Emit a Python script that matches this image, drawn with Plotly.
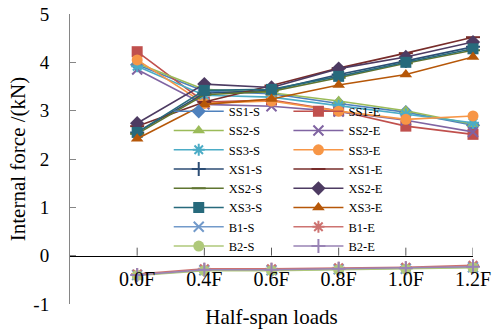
import plotly.graph_objects as go

# Load stages along the half span
categories = ["0.0F", "0.4F", "0.6F", "0.8F", "1.0F", "1.2F"]

# Internal force (kN) for each member / end
ss1_s = [3.95, 3.40, 3.35, 3.15, 2.97, 2.70]
ss1_e = [4.22, 3.18, 3.22, 3.00, 2.68, 2.51]
ss2_s = [3.98, 3.44, 3.37, 3.20, 3.00, 2.72]
ss2_e = [3.85, 3.13, 3.09, 2.98, 2.80, 2.56]
ss3_s = [3.92, 3.32, 3.28, 3.10, 2.92, 2.75]
ss3_e = [4.05, 3.15, 3.20, 2.99, 2.82, 2.89]
xs1_s = [2.55, 3.36, 3.42, 3.75, 4.03, 4.32]
xs1_e = [2.68, 3.18, 3.52, 3.88, 4.19, 4.52]
xs2_s = [2.52, 3.33, 3.40, 3.68, 3.98, 4.25]
xs2_e = [2.74, 3.55, 3.48, 3.87, 4.11, 4.42]
xs3_s = [2.55, 3.42, 3.44, 3.71, 4.00, 4.28]
xs3_e = [2.42, 3.13, 3.24, 3.53, 3.75, 4.11]
b1_s = [-0.40, -0.30, -0.30, -0.28, -0.27, -0.24]
b1_e = [-0.38, -0.27, -0.27, -0.25, -0.24, -0.20]
b2_s = [-0.41, -0.31, -0.31, -0.29, -0.28, -0.25]
b2_e = [-0.40, -0.29, -0.29, -0.27, -0.26, -0.23]

y_tick_values = [-1, 0, 1, 2, 3, 4, 5]
y_tick_labels = ["-1", "0", "1", "2", "3", "4", "5"]
y_range = [-1, 5]

FONT = "Liberation Serif"

# name, values, colour, symbol, legend
series = [
    ("SS1-S", ss1_s, "#4F81BD", "diamond", "legend"),
    ("SS1-E", ss1_e, "#C0504D", "square", "legend2"),
    ("SS2-S", ss2_s, "#9BBB59", "triangle-up", "legend"),
    ("SS2-E", ss2_e, "#8064A2", "x-thin", "legend2"),
    ("SS3-S", ss3_s, "#4BACC6", "asterisk", "legend"),
    ("SS3-E", ss3_e, "#F79646", "circle", "legend2"),
    ("XS1-S", xs1_s, "#2C4D75", "cross-thin", "legend"),
    ("XS1-E", xs1_e, "#772C2A", "line-ew", "legend2"),
    ("XS2-S", xs2_s, "#5F7530", "line-ew", "legend"),
    ("XS2-E", xs2_e, "#4D3B62", "diamond", "legend2"),
    ("XS3-S", xs3_s, "#276A7C", "square", "legend"),
    ("XS3-E", xs3_e, "#B65708", "triangle-up", "legend2"),
    ("B1-S", b1_s, "#729ACA", "x-thin", "legend"),
    ("B1-E", b1_e, "#CD7371", "asterisk", "legend2"),
    ("B2-S", b2_s, "#AFC97A", "circle", "legend"),
    ("B2-E", b2_e, "#9983B5", "cross-thin", "legend2"),
]

x_pos = list(range(len(categories)))
x_range = [-1, len(categories) - 1]
# the category axis crosses the value axis at zero
zero_frac = (0 - y_range[0]) / (y_range[1] - y_range[0])

fig = go.Figure()
for name, vals, color, symbol, leg in series:
    open_sym = symbol in ("x-thin", "asterisk", "cross-thin", "line-ew")
    fig.add_trace(go.Scatter(
        x=x_pos, y=vals, name=name, mode="lines+markers",
        line=dict(color=color, width=1.6),
        marker=dict(symbol=symbol, size=11 if not open_sym else 10, color=color,
                    line=dict(color=color, width=2 if open_sym else 0)),
        legend=leg, cliponaxis=False,
    ))

# upward tick marks on the zero-level category axis
for v in x_pos:
    fig.add_shape(
        type="line", xref="x", yref="y",
        x0=v, x1=v, ysizemode="pixel", yanchor=0, y0=0, y1=8,
        line=dict(color="#595959", width=1), layer="above",
    )

legend_common = dict(
    font=dict(family=FONT, size=12.5, color="#000"),
    bgcolor="rgba(0,0,0,0)", borderwidth=0,
    yanchor="top", xanchor="left", y=0.715,
    itemwidth=50, tracegroupgap=0,
)

fig.update_layout(
    width=496, height=331,
    margin=dict(l=70, r=23, t=13.5, b=26.5),
    plot_bgcolor="white", paper_bgcolor="white",
    font=dict(family=FONT, size=17, color="#000"),
    showlegend=True,
    legend=dict(x=0.245, **legend_common),
    legend2=dict(x=0.542, **legend_common),
    xaxis=dict(
        automargin=False,
        range=x_range, tickvals=x_pos, ticktext=categories,
        anchor="free", position=zero_frac,
        showline=True, linecolor="#000", linewidth=1,
        ticks="",
        tickfont=dict(family=FONT, size=20),
        ticklabelstandoff=5,
        showgrid=False, zeroline=False,
        title=dict(text="Half-span loads", font=dict(family=FONT, size=21), standoff=20),
    ),
    yaxis=dict(
        automargin=False,
        range=y_range, tickvals=y_tick_values, ticktext=y_tick_labels,
        showline=True, linecolor="#868686", linewidth=1,
        ticks="inside", ticklen=6, tickcolor="#868686",
        tickfont=dict(family=FONT, size=19),
        ticklabelstandoff=16,
        showgrid=False, zeroline=False,
        title=dict(text="Internal force /(kN)", font=dict(family=FONT, size=21), standoff=2),
    ),
)

fig.write_html("out.html")
